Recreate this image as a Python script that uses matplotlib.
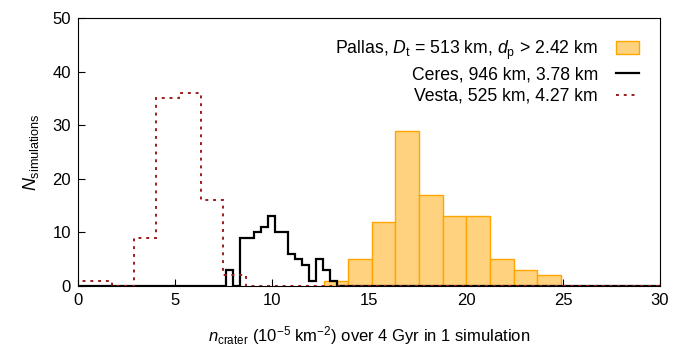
import numpy as np
import matplotlib
matplotlib.use("Agg")
import matplotlib.pyplot as plt
from matplotlib.patches import Patch
from matplotlib.lines import Line2D

plt.rcParams["font.family"] = ["Liberation Sans", "DejaVu Sans"]
plt.rcParams["mathtext.fontset"] = "custom"
plt.rcParams["mathtext.rm"] = "Liberation Sans"
plt.rcParams["mathtext.it"] = "Liberation Sans:italic"

# Pallas histogram (bars)
pallas_edges = [12.70, 13.92, 15.14, 16.36, 17.58, 18.80, 20.02, 21.24, 22.46, 23.68, 24.90]
pallas_counts = [1, 5, 12, 29, 17, 13, 13, 5, 3, 2]

# Ceres histogram (solid step)
ceres_edges = [7.65, 8.005, 8.36, 8.715, 9.07, 9.425, 9.78, 10.135, 10.49, 10.845,
               11.2, 11.555, 11.91, 12.265, 12.62, 12.975, 13.33]
ceres_counts = [3, 0, 9, 9, 10, 11, 13, 10, 10, 6, 5, 4, 1, 5, 3, 1]

# Vesta histogram (dotted step)
vesta_edges = [-0.56, 0.59, 1.74, 2.89, 4.04, 5.19, 6.34, 7.49, 8.64]
vesta_counts = [1, 1, 0, 9, 35, 36, 16, 2]

labels = [
    r"Pallas, $D_\mathrm{t}$ = 513 km, $d_\mathrm{p}$ > 2.42 km",
    "Ceres, 946 km, 3.78 km",
    "Vesta, 525 km, 4.27 km",
]

PALLAS_FACE = "#FFD27F"
PALLAS_EDGE = "#FFA500"
VESTA_COLOR = "#9B1C1C"

fig = plt.figure(figsize=(6.83, 3.5), dpi=100)
ax = fig.add_axes([0.1142, 0.1829, 0.8521, 0.7657])

widths = np.diff(pallas_edges)
ax.bar(pallas_edges[:-1], pallas_counts, width=widths, align="edge",
       facecolor=PALLAS_FACE, edgecolor=PALLAS_EDGE, linewidth=1.0, zorder=2)

ce = np.concatenate([[0.0], ceres_edges, [30.0]])
cc = np.concatenate([[0], ceres_counts, [0]])
ax.stairs(cc, ce, baseline=None, color="black", linewidth=1.6, zorder=3)

ve = np.concatenate([vesta_edges, [30.0]])
vc = np.concatenate([vesta_counts, [0]])
ax.stairs(vc, ve, baseline=None, color=VESTA_COLOR, linewidth=1.4,
          linestyle=(0, (1.5, 2.5)), zorder=3)

ax.set_xlim(0, 30)
ax.set_ylim(0, 50)
ax.set_xticks([0, 5, 10, 15, 20, 25, 30])
ax.set_yticks([0, 10, 20, 30, 40, 50])
ax.tick_params(direction="in", length=5, labelsize=12, top=False, right=False, pad=5)

ax.set_xlabel(r"$n_\mathrm{crater}$ (10$^{-5}$ km$^{-2}$) over 4 Gyr in 1 simulation",
              fontsize=12, labelpad=12)
ax.set_ylabel(r"$N_\mathrm{simulations}$", fontsize=13, labelpad=8)

handles = [
    Patch(facecolor=PALLAS_FACE, edgecolor=PALLAS_EDGE, linewidth=1.0),
    Line2D([], [], color="black", linewidth=1.6),
    Line2D([], [], color=VESTA_COLOR, linewidth=1.4, linestyle=(0, (1.5, 2.5))),
]
ax.legend(handles, labels, loc="upper right", frameon=False, markerfirst=False,
          fontsize=12.7, handlelength=1.35, handletextpad=1.0, labelspacing=0.26,
          borderaxespad=0.6, bbox_to_anchor=(0.995, 0.99))

fig.savefig("out.png", dpi=100)
